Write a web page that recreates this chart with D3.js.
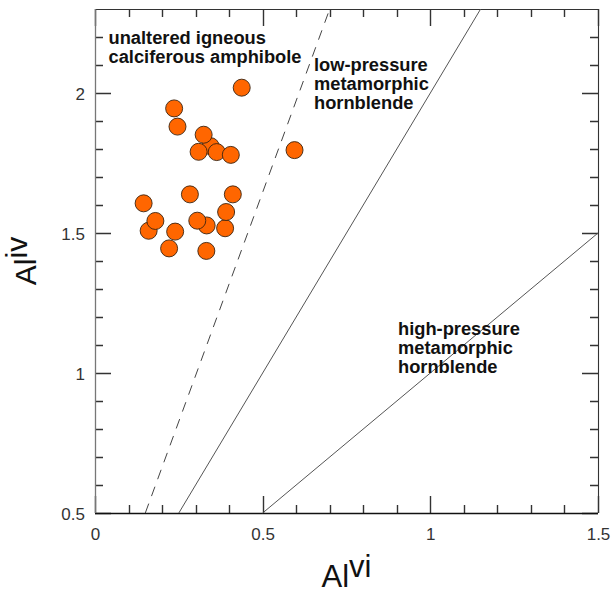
<!DOCTYPE html>
<html>
<head>
<meta charset="utf-8">
<script src="https://cdn.jsdelivr.net/npm/d3@7"></script>
<style>
  html, body { margin: 0; padding: 0; background: #fff; }
  svg { display: block; font-family: "Liberation Sans", Arial, Helvetica, sans-serif; }
</style>
</head>
<body>
<svg id="chart" width="614" height="593"></svg>
<script>
// ---- data ----
const alVI = [0.345, 0.4375, 0.236, 0.246, 0.324, 0.309, 0.363, 0.405, 0.595,
              0.145, 0.283, 0.411, 0.160, 0.180, 0.239, 0.333, 0.305, 0.388, 0.391, 0.221, 0.332];
const alIV = [1.810, 2.019, 1.945, 1.880, 1.851, 1.790, 1.789, 1.779, 1.796,
              1.606, 1.638, 1.638, 1.508, 1.543, 1.505, 1.527, 1.544, 1.517, 1.575, 1.445, 1.436];

const dashedBoundary = [[0.15, 0.5], [0.70, 2.3]];
const lowPressureBoundary = [[0.25, 0.5], [1.15, 2.3]];
const highPressureBoundary = [[0.5, 0.5], [1.5, 1.5]];

const xTickLabels = [0, 0.5, 1, 1.5];
const yTickLabels = [0.5, 1, 1.5, 2];
const xMinorTicks = [0.1, 0.2, 0.3, 0.4, 0.6, 0.7, 0.8, 0.9, 1.1, 1.2, 1.3, 1.4];
const yMinorTicks = [0.6, 0.7, 0.8, 0.9, 1.1, 1.2, 1.3, 1.4, 1.6, 1.7, 1.8, 1.9, 2.1, 2.2];

const labelIgneous = ["unaltered igneous", "calciferous amphibole"];
const labelLowP = ["low-pressure", "metamorphic", "hornblende"];
const labelHighP = ["high-pressure", "metamorphic", "hornblende"];

// ---- layout ----
const svg = d3.select("#chart");
const pL = 95, pR = 598, pT = 9, pB = 513;

const x = d3.scaleLinear().domain([0, 1.5]).range([pL, pR]);
const y = d3.scaleLinear().domain([0.5, 2.3]).range([pB, pT]);

// inward ticks on all four sides (minor 8px, major 17px), drawn as one path
let tickD = "";
[[xMinorTicks, 8], [xTickLabels, 17]].forEach(([vals, L]) => {
  vals.forEach(v => {
    const px = Math.round(x(v)) + 0.5;
    tickD += `M${px},${pB}V${pB - L}M${px},${pT}V${pT + L}`;
  });
});
[[yMinorTicks, 8], [yTickLabels, 16]].forEach(([vals, L]) => {
  vals.forEach(v => {
    const py = Math.round(y(v)) + 0.5;
    tickD += `M${pL},${py}H${pL + L}M${pR},${py}H${pR - L}`;
  });
});
svg.append("path").attr("d", tickD).attr("fill", "none")
  .attr("stroke", "#333").attr("stroke-width", 1.4);

// frame
svg.append("line").attr("x1", pL).attr("x2", pR).attr("y1", pB + 0.5).attr("y2", pB + 0.5).attr("stroke", "#111").attr("stroke-width", 1.3);
svg.append("line").attr("x1", pL).attr("x2", pR).attr("y1", pT + 0.5).attr("y2", pT + 0.5).attr("stroke", "#333").attr("stroke-width", 1.1);
svg.append("line").attr("x1", pL + 0.5).attr("x2", pL + 0.5).attr("y1", pT).attr("y2", pB).attr("stroke", "#777").attr("stroke-width", 1.3);
svg.append("line").attr("x1", pR + 0.5).attr("x2", pR + 0.5).attr("y1", pT).attr("y2", pB).attr("stroke", "#333").attr("stroke-width", 1.1);

// tick labels
const xa = svg.append("g").attr("transform", `translate(0,${pB})`)
  .call(d3.axisBottom(x).tickValues(xTickLabels).tickSize(0).tickPadding(0).tickFormat(d => String(d)));
xa.select(".domain").remove();
xa.selectAll("text").attr("font-size", 17).attr("fill", "#333").attr("dy", null).attr("y", 27)
  .attr("font-family", "Liberation Sans, Arial, sans-serif");

const ya = svg.append("g").attr("transform", `translate(${pL},0)`)
  .call(d3.axisLeft(y).tickValues(yTickLabels).tickSize(0).tickPadding(0).tickFormat(d => String(d)));
ya.select(".domain").remove();
ya.selectAll("text").attr("font-size", 17).attr("fill", "#333").attr("x", -10).attr("dy", "0.36em")
  .attr("font-family", "Liberation Sans, Arial, sans-serif");

// boundary lines
const lineGen = d3.line().x(d => x(d[0])).y(d => y(d[1]));
svg.append("path").datum(dashedBoundary).attr("d", lineGen).attr("fill", "none")
  .attr("stroke", "#444").attr("stroke-width", 1).attr("stroke-dasharray", "10,8");
svg.append("path").datum(lowPressureBoundary).attr("d", lineGen).attr("fill", "none")
  .attr("stroke", "#555").attr("stroke-width", 1);
svg.append("path").datum(highPressureBoundary).attr("d", lineGen).attr("fill", "none")
  .attr("stroke", "#555").attr("stroke-width", 1);

// points
const pts = alVI.map((v, i) => ({ x: v, y: alIV[i] }));
svg.append("g").selectAll("circle").data(pts).join("circle")
  .attr("cx", d => x(d.x)).attr("cy", d => y(d.y)).attr("r", 8.5)
  .attr("fill", "#ff6600").attr("stroke", "#3b2410").attr("stroke-width", 0.9);

// annotations
function block(lines, x0, y0, dy) {
  const t = svg.append("text").attr("font-weight", "bold").attr("font-size", 18.3)
    .attr("fill", "#111");
  lines.forEach((s, i) => t.append("tspan").attr("x", x0).attr("y", y0 + i * dy).text(s));
}
block(labelIgneous, 108.5, 44, 19.4);
block(labelLowP, 314, 71, 19.2);
block(labelHighP, 398, 334.5, 19);

// axis titles
const xt = svg.append("text").attr("font-size", 31).attr("fill", "#111")
  .attr("text-anchor", "middle").attr("x", (pL + pR) / 2).attr("y", 587);
xt.append("tspan").text("Al");
xt.append("tspan").attr("dy", -10).text("vi");

const yt = svg.append("text").attr("font-size", 30).attr("fill", "#111")
  .attr("text-anchor", "middle")
  .attr("transform", `translate(36,${(pT + pB) / 2}) rotate(-90)`);
yt.append("tspan").text("Al");
yt.append("tspan").attr("dy", -9).text("iv");
</script>
</body>
</html>
